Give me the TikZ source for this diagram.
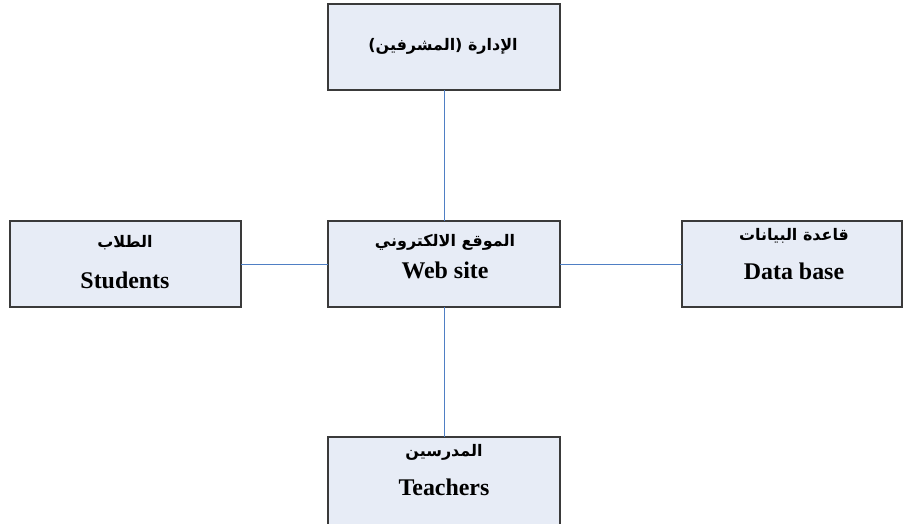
\documentclass[tikz,border=0pt]{standalone}
\usepackage{fontspec}
\setmainfont{Liberation Serif}
\newfontfamily\arabicfont[Script=Arabic]{DejaVu Sans}
\TeXXeTstate=1
\definecolor{boxfill}{HTML}{E7ECF6}
\definecolor{boxline}{HTML}{3A3A3A}
\definecolor{linkblue}{HTML}{4F7FC4}
\begin{document}
\begin{tikzpicture}[x=1bp,y=-1bp,
  unitbox/.style={draw=boxline,fill=boxfill,line width=1.1bp,rectangle,
    minimum width=232bp,minimum height=86bp,inner sep=0pt,outer sep=0pt},
  artext/.style={inner sep=0pt,font=\arabicfont\bfseries\fontsize{16}{18}\selectfont},
  entext/.style={inner sep=0pt,font=\bfseries\fontsize{24}{26}\selectfont},
  link/.style={draw=linkblue,line width=0.8bp}]
  \clip (0,0) rectangle (904,524);
  \useasboundingbox (0,0) rectangle (904,524);

  % the five units
  \node[unitbox] (admin) at (444,47) {};
  \node[unitbox] (web) at (444,264) {};
  \node[unitbox,minimum width=231bp] (stud) at (125.5,264) {};
  \node[unitbox,minimum width=220bp] (db) at (792,264) {};
  \node[unitbox,minimum height=110bp] (teach) at (444,492) {};

  % connectors from the web site to every unit
  \draw[link] (admin.south) -- (web.north);
  \draw[link] (web.south) -- (teach.north);
  \draw[link] (web.west) -- (stud.east);
  \draw[link] (web.east) -- (db.west);

  % labels
  \node[artext] (adminar) at (443,46) {\beginR الإدارة (المشرفين)\endR};
  \node[artext] (studar) at (125,243) {\beginR الطلاب\endR};
  \node[entext] (studen) at (125,280) {Students};
  \node[artext] (webar) at (445,242) {\beginR الموقع الالكتروني\endR};
  \node[entext] (weben) at (445,270) {Web site};
  \node[artext] (dbar) at (794,236) {\beginR قاعدة البيانات\endR};
  \node[entext] (dben) at (794,271) {Data base};
  \node[artext] (teachar) at (444,452) {\beginR المدرسين\endR};
  \node[entext] (teachen) at (444,487) {Teachers};
\end{tikzpicture}
\end{document}
